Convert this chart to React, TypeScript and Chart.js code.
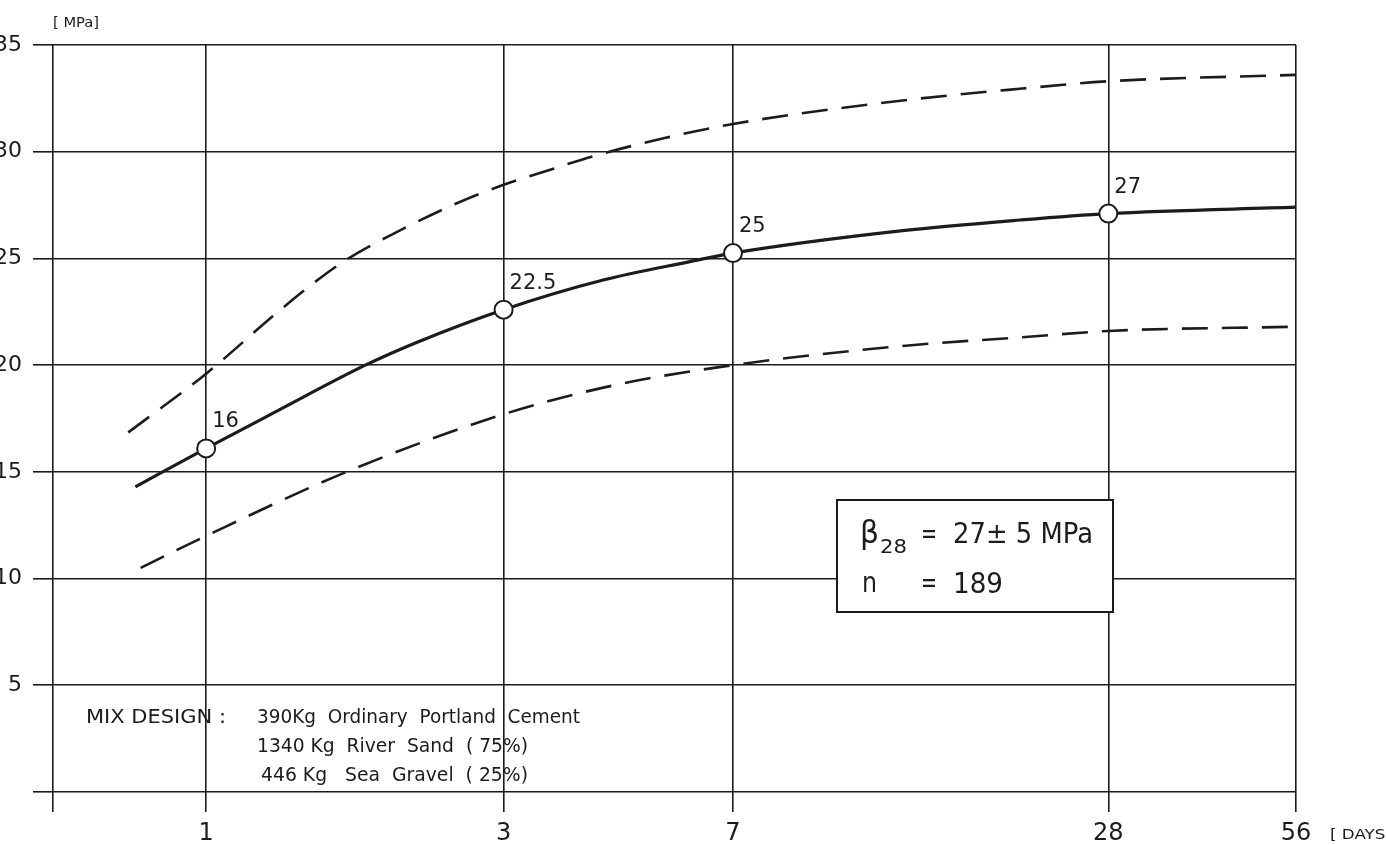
import React, { useEffect, useRef } from "react";
import { Chart, registerables } from "chart.js";

Chart.register(...registerables);

// ---- data ----
const dayTicks = [1, 3, 7, 28, 56];
const dayTickLabels = ["1", "3", "7", "28", "56"];
const strengthTicks = [0, 5, 10, 15, 20, 25, 30, 35];
const strengthTickLabels = ["", "5", "10", "15", "20", "25", "30", "35"];

const meanDays = [0.77, 1, 1.28, 1.8, 2.19, 3, 4.35, 5.97, 7, 13.1, 20.2, 28, 56];
const meanStrength = [14.3, 16.1, 17.75, 20.0, 21.1, 22.6, 24.0, 24.85, 25.25, 26.3, 26.8, 27.1, 27.4];

const upperDays = [0.75, 1, 1.28, 1.45, 1.67, 2.01, 2.53, 3, 3.43, 4.19, 5.46, 7, 13.1, 20.2, 28, 56];
const upperStrength = [16.85, 19.6, 22.3, 23.6, 24.9, 26.2, 27.6, 28.45, 29.0, 29.8, 30.65, 31.3, 32.4, 32.95, 33.3, 33.6];

const lowerDays = [0.785, 1, 1.68, 3, 4.5, 7, 13.1, 20.2, 28, 56];
const lowerStrength = [10.5, 12.0, 15.0, 17.7, 19.05, 20.0, 20.9, 21.3, 21.6, 21.8];

const markerDays = [1, 3, 7, 28];
const markerStrength = [16.1, 22.6, 25.25, 27.1];
const markerLabels = ["16", "22.5", "25", "27"];

const yUnitLabel = "[ MPa]";
const xUnitLabel = "[ DAYS]";
const mixTitle = "MIX DESIGN :";
const mixLines = [
  "390Kg  Ordinary  Portland  Cement",
  "1340 Kg  River  Sand  ( 75%)",
  "446 Kg   Sea  Gravel  ( 25%)",
];
const statSymbol = "β";
const statSub = "28";
const statValue = "27± 5 MPa";
const countSymbol = "n";
const countValue = "189";

const X_MIN = 0.568;
const INK = "#1c1c1c";
const FAMILY = "'DejaVu Sans', 'Liberation Sans', sans-serif";

function fitText(ctx: CanvasRenderingContext2D, text: string, x: number, y: number, w: number) {
  const m = ctx.measureText(text).width;
  ctx.save();
  ctx.translate(x, y);
  ctx.scale(w / m, 1);
  ctx.fillText(text, 0, 0);
  ctx.restore();
}

const annotationPlugin = {
  id: "annotations",
  afterDatasetsDraw(chart: any) {
    const ctx: CanvasRenderingContext2D = chart.ctx;
    const xs = chart.scales.x;
    const ys = chart.scales.y;
    ctx.save();
    ctx.fillStyle = INK;
    ctx.textAlign = "left";
    ctx.textBaseline = "alphabetic";

    // point value labels
    ctx.font = `21px ${FAMILY}`;
    markerDays.forEach((d, i) => {
      const px = xs.getPixelForValue(d);
      const py = ys.getPixelForValue(markerStrength[i]);
      ctx.fillText(markerLabels[i], px + 6, py - 21);
    });

    // unit labels
    ctx.font = `14px ${FAMILY}`;
    fitText(ctx, yUnitLabel, 53, 27, 46);
    fitText(ctx, xUnitLabel, 1330, 839, 62);

    // mix design text
    ctx.font = `20px ${FAMILY}`;
    fitText(ctx, mixTitle, 86, 723, 140);
    fitText(ctx, mixLines[0], 257, 723, 323);
    fitText(ctx, mixLines[1], 257, 752, 271);
    fitText(ctx, mixLines[2], 261, 781, 267);

    // stats box
    ctx.fillStyle = "#fff";
    ctx.fillRect(837, 500, 276, 112);
    ctx.strokeStyle = INK;
    ctx.lineWidth = 2;
    ctx.strokeRect(837, 500, 276, 112);
    ctx.fillStyle = INK;
    ctx.font = `32px ${FAMILY}`;
    fitText(ctx, statSymbol, 860, 543, 19);
    ctx.font = `19px ${FAMILY}`;
    fitText(ctx, statSub, 880, 553, 27);
    ctx.font = `28px ${FAMILY}`;
    fitText(ctx, "=", 921, 543, 16);
    fitText(ctx, statValue, 953, 543, 140);
    fitText(ctx, countSymbol, 862, 592, 15);
    fitText(ctx, "=", 921, 592, 16);
    fitText(ctx, countValue, 953, 593, 50);
    ctx.restore();
  },
};

export default function App() {
  const canvasRef = useRef<HTMLCanvasElement | null>(null);

  useEffect(() => {
    const canvas = canvasRef.current;
    if (!canvas) return;
    const toPts = (xs: number[], ys: number[]) => xs.map((x, i) => ({ x, y: ys[i] }));
    const chart = new Chart(canvas, {
      type: "line",
      data: {
        datasets: [
          {
            label: "markers",
            data: toPts(markerDays, markerStrength),
            showLine: false,
            pointRadius: 9,
            pointHoverRadius: 9,
            pointBackgroundColor: "#fff",
            pointBorderColor: INK,
            pointBorderWidth: 2,
          },
          {
            label: "mean",
            data: toPts(meanDays, meanStrength),
            borderColor: INK,
            borderWidth: 3.2,
            pointRadius: 0,
            cubicInterpolationMode: "monotone",
            fill: false,
          },
          {
            label: "upper",
            data: toPts(upperDays, upperStrength),
            borderColor: INK,
            borderWidth: 2.6,
            borderDash: [26, 14],
            pointRadius: 0,
            cubicInterpolationMode: "monotone",
            fill: false,
          },
          {
            label: "lower",
            data: toPts(lowerDays, lowerStrength),
            borderColor: INK,
            borderWidth: 2.6,
            borderDash: [26, 14],
            pointRadius: 0,
            cubicInterpolationMode: "monotone",
            fill: false,
          },
        ],
      },
      options: {
        responsive: false,
        animation: false,
        layout: { padding: { top: 45, right: 90, left: 0, bottom: 0 } },
        plugins: { legend: { display: false }, tooltip: { enabled: false } },
        scales: {
          x: {
            type: "logarithmic",
            min: X_MIN,
            max: 56,
            afterBuildTicks: (s: any) => {
              s.ticks = [{ value: X_MIN }, ...dayTicks.map((v) => ({ value: v }))];
            },
            afterFit: (s: any) => {
              s.height = 53;
            },
            ticks: {
              autoSkip: false,
              maxRotation: 0,
              minRotation: 0,
              padding: 7,
              color: INK,
              font: { family: FAMILY, size: 24 },
              callback: (v: any) => {
                const i = dayTicks.indexOf(Number(v));
                return i >= 0 ? dayTickLabels[i] : "";
              },
            },
            grid: { color: INK, lineWidth: 1.6, tickLength: 20, drawTicks: true },
            border: { display: false },
          },
          y: {
            type: "linear",
            min: 0,
            max: 35,
            afterBuildTicks: (s: any) => {
              s.ticks = strengthTicks.map((v) => ({ value: v }));
            },
            afterFit: (s: any) => {
              s.width = 53;
            },
            ticks: {
              padding: 11,
              color: INK,
              font: { family: FAMILY, size: 22 },
              callback: (v: any) => {
                const i = strengthTicks.indexOf(Number(v));
                return i >= 0 ? strengthTickLabels[i] : "";
              },
            },
            grid: { color: INK, lineWidth: 1.6, tickLength: 20, drawTicks: true },
            border: { display: false },
          },
        },
      },
      plugins: [annotationPlugin],
    } as any);
    return () => chart.destroy();
  }, []);

  return (
    <div style={{ position: "fixed", left: 0, top: 0, width: 1386, height: 845, background: "#fff", overflow: "hidden" }}>
      <canvas ref={canvasRef} width={1386} height={845} style={{ display: "block", width: 1386, height: 845 }} />
    </div>
  );
}
